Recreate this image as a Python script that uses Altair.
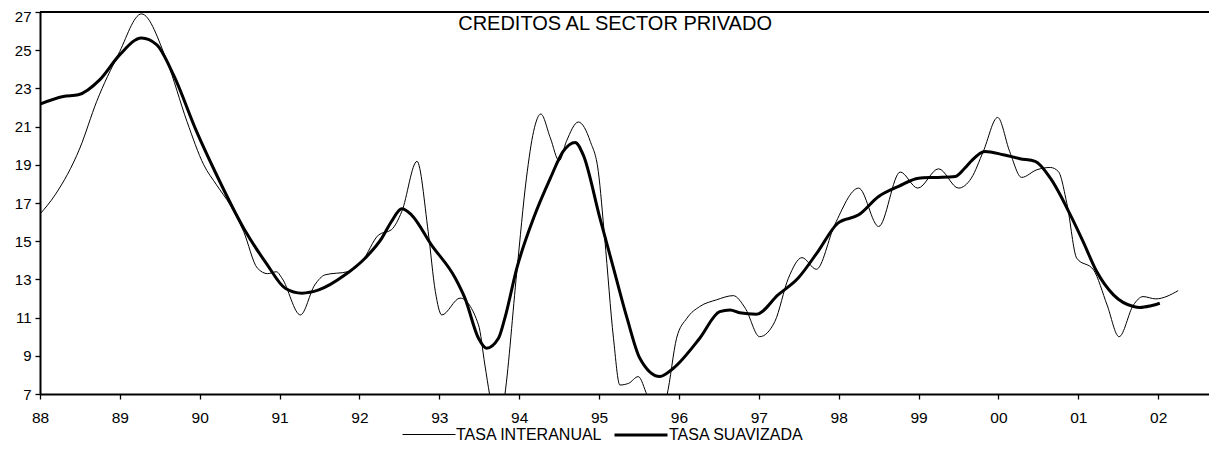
import altair as alt
import pandas as pd

title_text = "CREDITOS AL SECTOR PRIVADO"
year_labels = ["88", "89", "90", "91", "92", "93", "94", "95", "96", "97",
               "98", "99", "00", "01", "02"]
series_names = ["TASA INTERANUAL", "TASA SUAVIZADA"]

# years elapsed since start of 1988
interanual_t = [0.00, 0.19, 0.50, 0.71, 0.98, 1.27, 1.59, 1.84, 2.05, 2.21,
                2.38, 2.55, 2.72, 2.85, 2.96, 3.03, 3.26, 3.44, 3.57, 3.86,
                4.03, 4.24, 4.40, 4.53, 4.72, 4.86, 4.95, 5.03, 5.26, 5.49,
                5.57, 5.63, 5.73, 5.82, 5.97, 6.09, 6.18, 6.27, 6.39, 6.50,
                6.59, 6.74, 6.89, 6.99, 7.07, 7.18, 7.26, 7.37, 7.49, 7.60,
                7.72, 7.85, 7.97, 8.10, 8.26, 8.47, 8.68, 8.83, 9.01, 9.20,
                9.37, 9.54, 9.72, 9.95, 10.25, 10.50, 10.77, 10.99, 11.25, 11.50,
                11.66, 11.81, 11.99, 12.14, 12.29, 12.48, 12.65, 12.75, 12.86, 12.98,
                13.19, 13.36, 13.51, 13.69, 13.81, 13.97, 14.25]
interanual_v = [16.42, 17.43, 19.88, 22.32, 24.77, 26.90, 24.42, 21.27, 19.00, 17.95,
                16.90, 15.50, 13.60, 13.30, 13.40, 13.06, 11.14, 12.71, 13.24, 13.41,
                13.93, 15.33, 15.60, 16.56, 19.18, 15.50, 12.36, 11.14, 12.02, 10.62,
                8.52, 6.95, 4.80, 6.95, 13.41, 18.30, 20.75, 21.66, 20.40, 19.21,
                20.22, 21.24, 20.22, 18.65, 15.16, 9.92, 7.47, 7.56, 7.91, 6.95,
                5.80, 6.95, 9.92, 10.97, 11.58, 11.93, 12.15, 11.49, 10.00, 10.79,
                13.06, 14.14, 13.53, 15.86, 17.78, 15.77, 18.62, 17.78, 18.79, 17.78,
                18.30, 19.70, 21.48, 19.70, 18.34, 18.74, 18.86, 18.65, 16.90, 14.11,
                13.50, 11.66, 10.00, 11.66, 12.10, 11.98, 12.41]

suavizada_t = [0.00, 0.29, 0.48, 0.75, 1.00, 1.27, 1.46, 1.67, 1.96, 2.21,
               2.55, 2.84, 3.07, 3.28, 3.49, 3.82, 4.07, 4.28, 4.40, 4.53,
               4.65, 4.90, 5.20, 5.32, 5.49, 5.59, 5.74, 5.82, 5.97, 6.18,
               6.39, 6.55, 6.70, 6.80, 7.01, 7.18, 7.35, 7.51, 7.76, 7.93,
               8.26, 8.51, 8.64, 8.76, 8.97, 9.24, 9.49, 9.74, 9.99, 10.25,
               10.50, 10.75, 11.00, 11.21, 11.46, 11.58, 11.66, 11.83, 12.06, 12.27,
               12.46, 12.65, 12.90, 13.06, 13.23, 13.44, 13.69, 13.77, 13.90, 14.02]
suavizada_v = [22.18, 22.58, 22.67, 23.46, 24.77, 25.64, 25.29, 23.72, 20.75, 18.48,
               15.68, 13.80, 12.54, 12.28, 12.45, 13.24, 14.11, 15.16, 16.03, 16.70,
               16.38, 14.81, 13.06, 12.02, 9.92, 9.40, 9.92, 10.97, 13.59, 16.21,
               18.30, 19.70, 20.17, 19.53, 16.21, 13.59, 10.97, 8.87, 7.91, 8.35,
               9.92, 11.31, 11.40, 11.25, 11.18, 12.19, 13.06, 14.46, 15.95, 16.38,
               17.34, 17.87, 18.30, 18.34, 18.39, 18.83, 19.20, 19.70, 19.53, 19.32,
               19.18, 18.30, 16.38, 14.98, 13.41, 12.19, 11.58, 11.53, 11.61, 11.75]

rows = []
for t, v in zip(interanual_t, interanual_v):
    rows.append({"t": t, "v": v, "serie": series_names[0]})
for t, v in zip(suavizada_t, suavizada_v):
    rows.append({"t": t, "v": v, "serie": series_names[1]})
df = pd.DataFrame(rows)

W, H = 1169, 382
X_MAX = 14.636
FONT = "Liberation Sans"

label_expr = "[" + ",".join("'%s'" % s for s in year_labels) + "][datum.value]"

x_scale = alt.Scale(domain=[0, X_MAX], nice=False, zero=False)
y_scale = alt.Scale(domain=[7, 27], nice=False, zero=False)
y_ticks = list(range(7, 28, 2))

x_axis = alt.Axis(values=list(range(len(year_labels))), labelExpr=label_expr,
                  title=None, grid=False, tickSize=5, labelPadding=11,
                  labelFontSize=15.5, labelFont=FONT, labelColor="black",
                  tickColor="black", domainColor="black", domainWidth=2,
                  tickWidth=1.3, labelFlush=False, labelOverlap=False)
y_axis = alt.Axis(values=y_ticks, title=None, grid=False,
                  tickSize=5, labelPadding=4, labelFontSize=15, labelFont=FONT,
                  labelColor="black", tickColor="black", domainColor="black",
                  domainWidth=2, tickWidth=1.3, labelFlush=False, labelOverlap=False,
                  labelOffset={"condition": {"test": "datum.value == 27", "value": 4.5},
                               "value": 0})

legend = alt.Legend(orient="none", legendX=362, legendY=395, direction="horizontal",
                    title=None, symbolType="stroke", symbolSize=2809,
                    symbolStrokeColor="black", labelFont=FONT, labelFontSize=16,
                    labelColor="black", labelOffset=0, columnPadding=5, padding=0)

lines = alt.Chart(df).mark_line(interpolate="monotone", clip=True, color="black").encode(
    x=alt.X("t:Q", scale=x_scale, axis=x_axis),
    y=alt.Y("v:Q", scale=y_scale, axis=y_axis),
    strokeWidth=alt.StrokeWidth("serie:N",
                                scale=alt.Scale(domain=series_names, range=[1, 3]),
                                legend=legend),
    detail="serie:N",
    order="t:Q",
)

frame = alt.Chart(pd.DataFrame({"v": [27]})).mark_rule(color="black", strokeWidth=2).encode(
    y=alt.Y("v:Q", scale=y_scale, axis=y_axis),
    x=alt.datum(0),
    x2=alt.datum(X_MAX),
)

title_df = pd.DataFrame({"t": [7.2], "v": [26.06], "label": [title_text]})
title_mark = alt.Chart(title_df).mark_text(
    font=FONT, fontSize=20, color="black", align="center", baseline="alphabetic"
).encode(
    x=alt.X("t:Q", scale=x_scale, axis=x_axis),
    y=alt.Y("v:Q", scale=y_scale, axis=y_axis),
    text="label:N",
)

chart = alt.layer(lines, frame, title_mark).properties(
    width=W, height=H,
    padding={"left": 32, "top": 4, "right": 0, "bottom": 52},
    autosize=alt.AutoSizeParams(type="none"),
    background="white",
).configure_view(stroke=None)

chart.save("out.html", embed_options={"renderer": "svg", "actions": False})
